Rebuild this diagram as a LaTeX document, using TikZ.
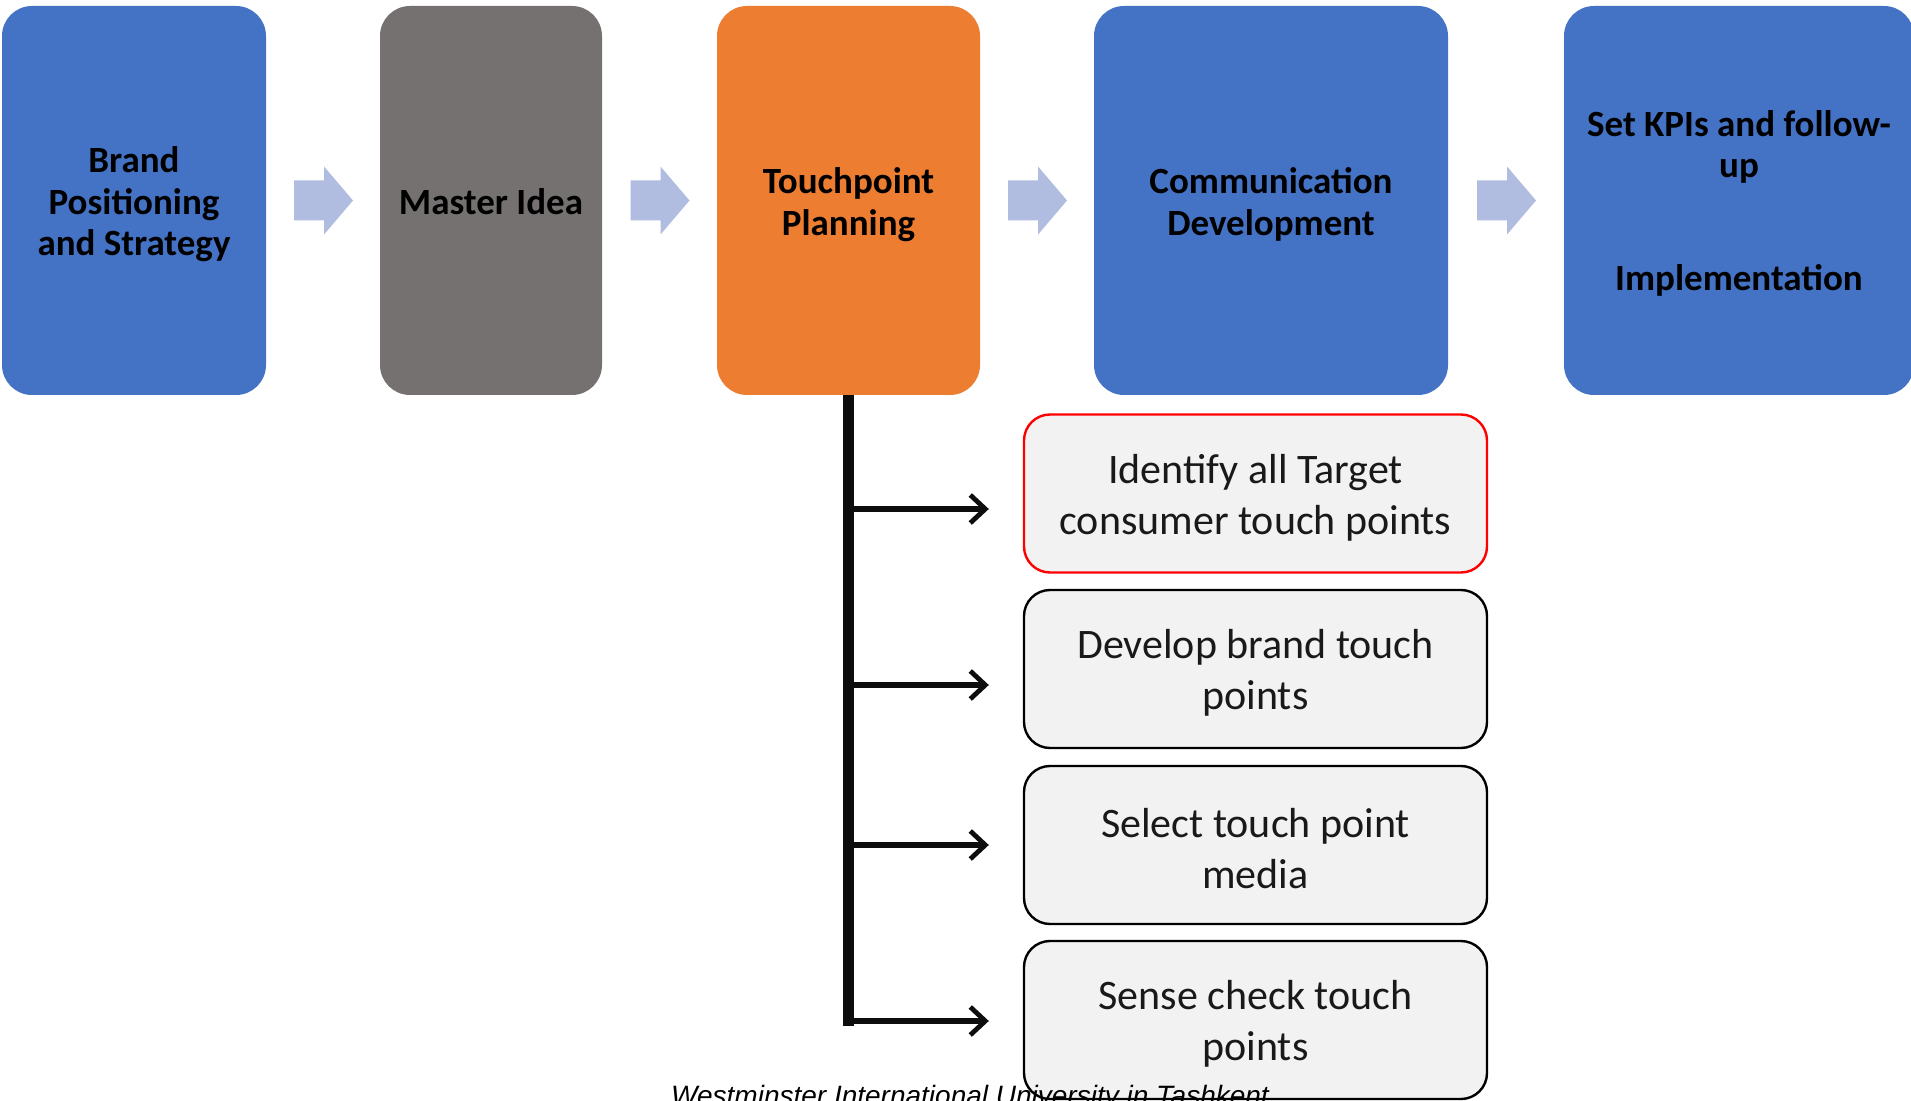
\documentclass[tikz,border=0pt]{standalone}
\usepackage{fontspec}
\setmainfont{Carlito}
\newfontfamily\footfont{Liberation Sans}
\usetikzlibrary{arrows.meta,calc}
\definecolor{cblue}{HTML}{4472C4}
\definecolor{cgrey}{HTML}{767171}
\definecolor{corange}{HTML}{ED7D31}
\definecolor{carrow}{HTML}{B0BDE0}
\definecolor{cbox}{HTML}{F2F2F2}
\definecolor{cred}{HTML}{FF0000}
\newcommand\blockarrowat[1]{\fill[carrow] (#1) ++(-29,-20) -- ++(30,0) -- ++(0,-14) -- ++(29,34) -- ++(-29,34) -- ++(0,-14) -- ++(-30,0) -- cycle;}
\begin{document}
\begin{tikzpicture}[x=0.5pt,y=-0.5pt,
  topbox/.style={rounded corners=15pt, minimum height=194.5pt, inner sep=0pt},
  toptext/.style={inner sep=0pt, align=center,
    font=\fontsize{18.5pt}{20.7pt}\selectfont\bfseries, text=black},
  subbox/.style={draw=black, line width=1.2pt, fill=cbox, rounded corners=13pt,
    minimum width=231.5pt, minimum height=79pt, inner sep=0pt},
  subtext/.style={align=center, inner sep=0pt,
    font=\fontsize{21pt}{25.5pt}\selectfont, text=black!90},
  trunk/.style={line width=5.5pt, black!95},
  branch/.style={line width=2.6pt, black!95, -{Straight Barb[length=7.5pt,width=14pt,line width=2.4pt]}, shorten >=17pt},
]
\clip (0,0) rectangle (1911,1101);
\fill[white] (0,0) rectangle (1911,1101);

% top row
\node[topbox, fill=cblue, minimum width=132pt] (b1) at (134,200.5) {};
\node[topbox, fill=cgrey, minimum width=111pt] (b2) at (491,200.5) {};
\node[topbox, fill=corange, minimum width=131.5pt] (b3) at (848.5,200.5) {};
\node[topbox, fill=cblue, minimum width=177pt] (b4) at (1271,200.5) {};
\node[topbox, fill=cblue, minimum width=175pt] (b5) at (1739,200.5) {};
\node[toptext] (b1t) at ($(b1)+(0,4)$) {Brand\\Positioning\\and Strategy};
\node[toptext] (b2t) at ($(b2)+(0,1)$) {Master Idea};
\node[toptext] (b3t) at ($(b3)+(0,4)$) {Touchpoint\\Planning};
\node[toptext] (b4t) at ($(b4)+(0,4)$) {Communication\\Development};
\node[toptext] (b5t) at ($(b5)+(0,3)$) {Set KPIs and follow-\\up\\[35.8pt]Implementation};

% block arrows between boxes
\coordinate (a1) at ($(b1.east)!0.5!(b2.west)$);
\coordinate (a2) at ($(b2.east)!0.5!(b3.west)$);
\coordinate (a3) at ($(b3.east)!0.5!(b4.west)$);
\coordinate (a4) at ($(b4.east)!0.5!(b5.west)$);
\blockarrowat{a1}
\blockarrowat{a2}
\blockarrowat{a3}
\blockarrowat{a4}

% sub boxes
\node[subbox, draw=cred] (s1) at (1255.5,493.5) {};
\node[subbox] (s2) at (1255.5,669) {};
\node[subbox] (s3) at (1255.5,845) {};
\node[subbox] (s4) at (1255.5,1020) {};
\node[subtext] (s1t) at ($(s1)+(0,4)$) {Identify all Target\\consumer touch points};
\node[subtext] (s2t) at ($(s2)+(0,4)$) {Develop brand touch\\points};
\node[subtext] (s3t) at ($(s3)+(0,4)$) {Select touch point\\media};
\node[subtext] (s4t) at ($(s4)+(0,4)$) {Sense check touch\\points};

% trunk and branches
\coordinate (j1) at (848.5,509);
\coordinate (j2) at (848.5,685);
\coordinate (j3) at (848.5,845);
\coordinate (j4) at (848.5,1021);
\coordinate (jend) at (848.5,1026);
\draw[trunk] (b3.south) -- (jend);
\draw[branch] (j1) -- (s1.west |- j1);
\draw[branch] (j2) -- (s2.west |- j2);
\draw[branch] (j3) -- (s3.west |- j3);
\draw[branch] (j4) -- (s4.west |- j4);

% footer
\node[anchor=base, inner sep=0pt, font=\footfont\itshape\fontsize{14pt}{16pt}\selectfont] (foot) at (970,1105) {Westminster International University in Tashkent};
\end{tikzpicture}
\end{document}
